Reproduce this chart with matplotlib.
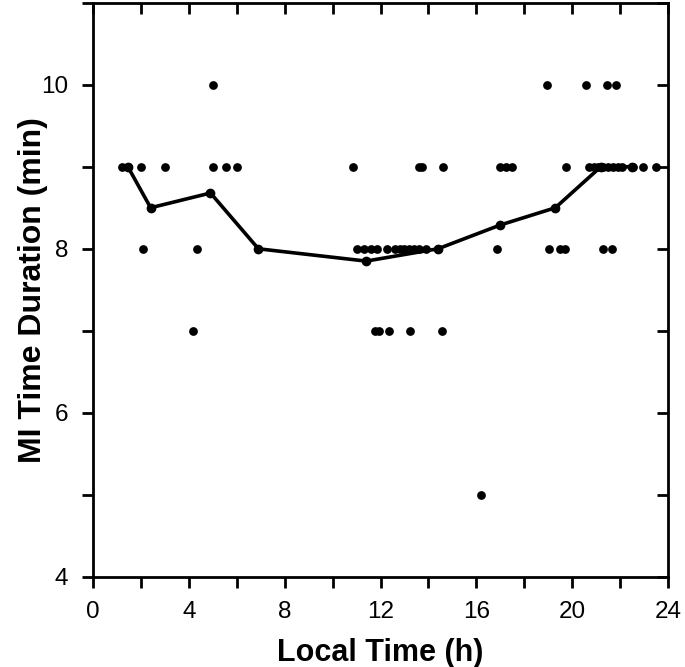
import matplotlib.pyplot as plt
from matplotlib.ticker import MultipleLocator

plt.rcParams['font.family'] = ['Liberation Sans', 'DejaVu Sans']

# individual events: local time (h) and duration (min)
x10 = [5.0, 18.95, 20.6, 21.45, 21.85]
x9 = [1.2, 1.45, 2.0, 3.0, 5.0, 5.55, 6.0, 10.85, 13.6, 13.75, 14.6,
      17.0, 17.25, 17.5, 19.75, 20.7, 20.9, 21.1, 21.3, 21.5, 21.7, 21.9,
      22.1, 22.55, 22.95, 23.5]
x8 = [2.1, 4.35, 11.0, 11.3, 11.6, 11.85, 12.25, 12.6, 12.8, 13.0, 13.2,
      13.4, 13.6, 13.9, 14.4, 16.85, 19.05, 19.5, 19.7, 21.3, 21.65]
x7 = [4.15, 11.75, 11.95, 12.35, 13.25, 14.55]
x5 = [16.2]

# binned mean curve
mean_t = [1.45, 2.4, 4.9, 6.9, 11.4, 14.4, 17.0, 19.3, 21.2, 22.5]
mean_d = [9.0, 8.5, 8.68, 8.0, 7.85, 8.0, 8.29, 8.5, 9.0, 9.0]

fig = plt.figure(figsize=(6.85, 6.67), dpi=100)
ax = fig.add_axes([0.136, 0.135, 0.839, 0.861])

for xs, val in [(x10, 10), (x9, 9), (x8, 8), (x7, 7), (x5, 5)]:
    ax.plot(xs, [val] * len(xs), 'o', color='black', markersize=6.3, markeredgewidth=0)

ax.plot(mean_t, mean_d, '-o', color='black', linewidth=2.6, markersize=6)

ax.set_xlim(0, 24)
ax.set_ylim(4, 11)
ax.set_xticks([0, 4, 8, 12, 16, 20, 24])
ax.xaxis.set_minor_locator(MultipleLocator(2))
ax.set_yticks([4, 6, 8, 10])
ax.yaxis.set_minor_locator(MultipleLocator(1))

for s in ax.spines.values():
    s.set_linewidth(2)

ax.tick_params(which='both', direction='out', length=8, width=2, labelsize=17.5,
               top=False, right=False)
ax.tick_params(axis='x', pad=9)
ax.tick_params(axis='y', pad=10)

# inward ticks on top and right
sec_x = ax.secondary_xaxis('top')
sec_x.set_xticks(range(0, 25, 2))
sec_x.tick_params(direction='in', length=8, width=2, labeltop=False)
sec_x.spines['top'].set_visible(False)
sec_y = ax.secondary_yaxis('right')
sec_y.set_yticks(range(4, 12))
sec_y.tick_params(direction='in', length=8, width=2, labelright=False)
sec_y.spines['right'].set_visible(False)

ax.set_xlabel('Local Time (h)', fontsize=22, fontweight='bold', labelpad=11)
ax.set_ylabel('MI Time Duration (min)', fontsize=23, fontweight='bold')
ax.yaxis.set_label_coords(-0.078, 0.5)

fig.savefig('out.png', dpi=100)
